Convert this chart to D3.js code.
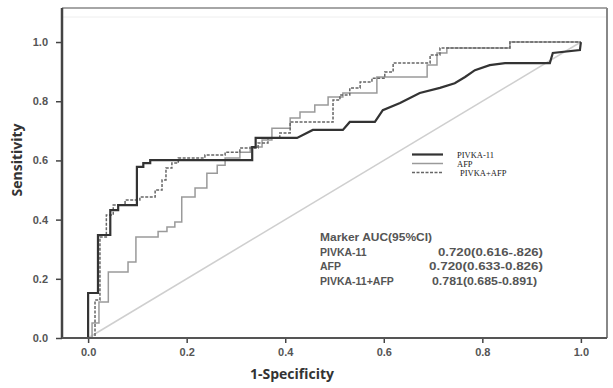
<!DOCTYPE html>
<html><head><meta charset="utf-8">
<script src="https://cdn.jsdelivr.net/npm/d3@7"></script>
<style>body{margin:0;background:#fff}svg{display:block}</style>
</head><body>
<svg id="c" width="613" height="388"></svg>
<script>
// ---- data ----
const xTicks = [0, 0.2, 0.4, 0.6, 0.8, 1.0];
const yTicks = [0, 0.2, 0.4, 0.6, 0.8, 1.0];
const seriesNames = ["PIVKA-11", "AFP", "PIVKA+AFP"];

const pivkaFpr = [0,0,0.020,0.020,0.045,0.045,0.061,0.061,0.099,0.099,0.112,0.112,0.126,0.126,0.333,0.333,0.340,0.340,0.424,0.456,0.517,0.531,0.582,0.598,0.633,0.673,0.714,0.744,0.765,0.785,0.815,0.846,0.937,0.943,0.998,1.0];
const pivkaTpr = [0,0.152,0.152,0.348,0.348,0.432,0.432,0.449,0.449,0.578,0.578,0.591,0.591,0.601,0.601,0.645,0.645,0.676,0.676,0.703,0.703,0.730,0.730,0.770,0.794,0.828,0.845,0.861,0.882,0.905,0.922,0.929,0.929,0.963,0.973,1.0];

const afpFpr = [0,0.008,0.008,0.022,0.022,0.041,0.041,0.081,0.081,0.097,0.097,0.142,0.142,0.160,0.160,0.176,0.176,0.190,0.190,0.217,0.217,0.241,0.241,0.262,0.262,0.278,0.278,0.308,0.308,0.329,0.329,0.353,0.353,0.373,0.373,0.410,0.410,0.430,0.430,0.460,0.460,0.487,0.487,0.517,0.517,0.586,0.586,0.688,0.688,0.708,0.708,0.728,0.728,0.856,0.856,1.0];
const afpTpr = [0,0,0.051,0.051,0.122,0.122,0.223,0.223,0.257,0.257,0.341,0.341,0.360,0.360,0.375,0.375,0.392,0.392,0.476,0.476,0.507,0.507,0.557,0.557,0.584,0.584,0.608,0.608,0.628,0.628,0.645,0.645,0.669,0.669,0.709,0.709,0.743,0.743,0.764,0.764,0.787,0.787,0.814,0.814,0.828,0.828,0.882,0.882,0.922,0.922,0.963,0.963,0.980,0.980,1.0,1.0];

const comboFpr = [0,0.014,0.014,0.024,0.024,0.037,0.037,0.051,0.051,0.075,0.075,0.105,0.105,0.136,0.136,0.150,0.150,0.158,0.158,0.170,0.170,0.183,0.183,0.237,0.237,0.278,0.278,0.308,0.308,0.345,0.345,0.365,0.365,0.389,0.389,0.410,0.410,0.497,0.497,0.511,0.511,0.531,0.531,0.552,0.552,0.576,0.576,0.602,0.602,0.619,0.619,0.694,0.694,0.714,0.714,0.856,0.856,1.0];
const comboTpr = [0,0,0.128,0.128,0.341,0.341,0.416,0.416,0.449,0.449,0.466,0.466,0.476,0.476,0.500,0.500,0.534,0.534,0.574,0.574,0.591,0.591,0.608,0.608,0.618,0.618,0.628,0.628,0.642,0.642,0.659,0.659,0.676,0.676,0.693,0.693,0.730,0.730,0.804,0.804,0.821,0.821,0.845,0.845,0.865,0.865,0.878,0.878,0.899,0.899,0.929,0.929,0.956,0.956,0.980,0.980,1.0,1.0];

const refFpr = [0, 1];
const refTpr = [0, 1];

const aucHeader = "Marker AUC(95%CI)";
const aucMarkers = ["PIVKA-11", "AFP", "PIVKA-11+AFP"];
const aucValues = ["0.720(0.616-.826)", "0.720(0.633-0.826)", "0.781(0.685-0.891)"];

// ---- layout ----
const svg = d3.select("#c");
const L = 62, R = 607, T = 8, B = 338;
const x = d3.scaleLinear().domain([-0.053, 1.053]).range([L, R]);
const y = d3.scaleLinear().domain([0, 1.115]).range([B, T]);

// frame (top & right, light)
svg.append("line").attr("x1", L).attr("x2", R).attr("y1", T).attr("y2", T).attr("stroke", "#888").attr("stroke-width", 1.5);
svg.append("line").attr("x1", L).attr("x2", R - 1).attr("y1", T + 9).attr("y2", T + 9).attr("stroke", "#eee").attr("stroke-width", 1);
svg.append("line").attr("x1", R).attr("x2", R).attr("y1", T).attr("y2", B).attr("stroke", "#888").attr("stroke-width", 2);

const zip = (a, b) => a.map((v, i) => [v, b[i]]);
const line = d3.line().x(d => x(d[0])).y(d => y(d[1]));

// reference diagonal
svg.append("path").attr("d", line(zip(refFpr, refTpr))).attr("fill", "none").attr("stroke", "#cfcfcf").attr("stroke-width", 1.6);

// curves
svg.append("path").attr("d", line(zip(afpFpr, afpTpr))).attr("fill", "none").attr("stroke", "#9a9a9a").attr("stroke-width", 1.5);
svg.append("path").attr("d", line(zip(comboFpr, comboTpr))).attr("fill", "none").attr("stroke", "#666").attr("stroke-width", 1.5).attr("stroke-dasharray", "3,1.5");
svg.append("path").attr("d", line(zip(pivkaFpr, pivkaTpr))).attr("fill", "none").attr("stroke", "#333").attr("stroke-width", 2.2);

// axes
const yAxis = svg.append("g").attr("transform", `translate(${L},0)`)
  .call(d3.axisLeft(y).tickValues(yTicks).tickFormat(d3.format(".1f")).tickSize(6).tickPadding(8));
const xAxis = svg.append("g").attr("transform", `translate(0,${B})`)
  .call(d3.axisBottom(x).tickValues(xTicks).tickFormat(d3.format(".1f")).tickSize(5).tickPadding(5));
[yAxis, xAxis].forEach(g => {
  g.select(".domain").remove();
  g.selectAll(".tick line").attr("stroke", "#444").attr("stroke-width", 1.5);
  g.selectAll(".tick text").attr("fill", "#555").attr("font-family", "Liberation Sans, Arial, sans-serif")
    .attr("font-weight", "bold").attr("font-size", 11);
});
svg.append("line").attr("x1", L).attr("x2", L).attr("y1", T).attr("y2", B + 1).attr("stroke", "#444").attr("stroke-width", 2.5);
svg.append("line").attr("x1", L).attr("x2", R).attr("y1", B).attr("y2", B).attr("stroke", "#555").attr("stroke-width", 2);

// axis titles
svg.append("text").attr("x", 292).attr("y", 379).attr("text-anchor", "middle")
  .attr("font-family", "Open Sans, Liberation Sans, sans-serif").attr("font-weight", "bold").attr("font-size", 14)
  .attr("fill", "#333").text("1-Specificity");
svg.append("text").attr("transform", "translate(22,160) rotate(-90)").attr("text-anchor", "middle")
  .attr("font-family", "Open Sans, Liberation Sans, sans-serif").attr("font-weight", "bold").attr("font-size", 14)
  .attr("fill", "#333").text("Sensitivity");

// legend
const legY = [154.5, 163.5, 172.5];
const legStyle = [
  {stroke: "#333", w: 2.2, dash: null},
  {stroke: "#9a9a9a", w: 1.5, dash: null},
  {stroke: "#666", w: 1.5, dash: "3,1.5"}
];
seriesNames.forEach((n, i) => {
  const l = svg.append("line").attr("x1", 412).attr("x2", 443).attr("y1", legY[i]).attr("y2", legY[i])
    .attr("stroke", legStyle[i].stroke).attr("stroke-width", legStyle[i].w);
  if (legStyle[i].dash) l.attr("stroke-dasharray", legStyle[i].dash);
  svg.append("text").attr("x", i === 2 ? 460 : 457).attr("y", legY[i] + 3)
    .attr("font-family", "Liberation Serif, Times New Roman, serif").attr("font-size", 8.5)
    .attr("fill", "#222").text(n);
});

// AUC table
const tf = "Liberation Sans, Arial, sans-serif";
svg.append("text").attr("x", 320).attr("y", 241).attr("font-family", tf).attr("font-weight", "bold")
  .attr("font-size", 10.5).attr("fill", "#555").attr("textLength", 112).attr("lengthAdjust", "spacingAndGlyphs").text(aucHeader);
const rowY = [256, 270, 285];
const valStart = [438, 429, 432];
aucMarkers.forEach((m, i) => {
  svg.append("text").attr("x", 320).attr("y", rowY[i]).attr("font-family", tf).attr("font-weight", "bold")
    .attr("font-size", 10.5).attr("fill", "#555").text(m);
  svg.append("text").attr("x", valStart[i]).attr("y", rowY[i]).attr("font-family", tf).attr("font-weight", "bold")
    .attr("font-size", 10.5).attr("fill", "#555").attr("lengthAdjust", "spacingAndGlyphs")
    .attr("textLength", 543 - valStart[i] - (i === 2 ? 6 : 0)).text(aucValues[i]);
});
</script>
</body></html>
